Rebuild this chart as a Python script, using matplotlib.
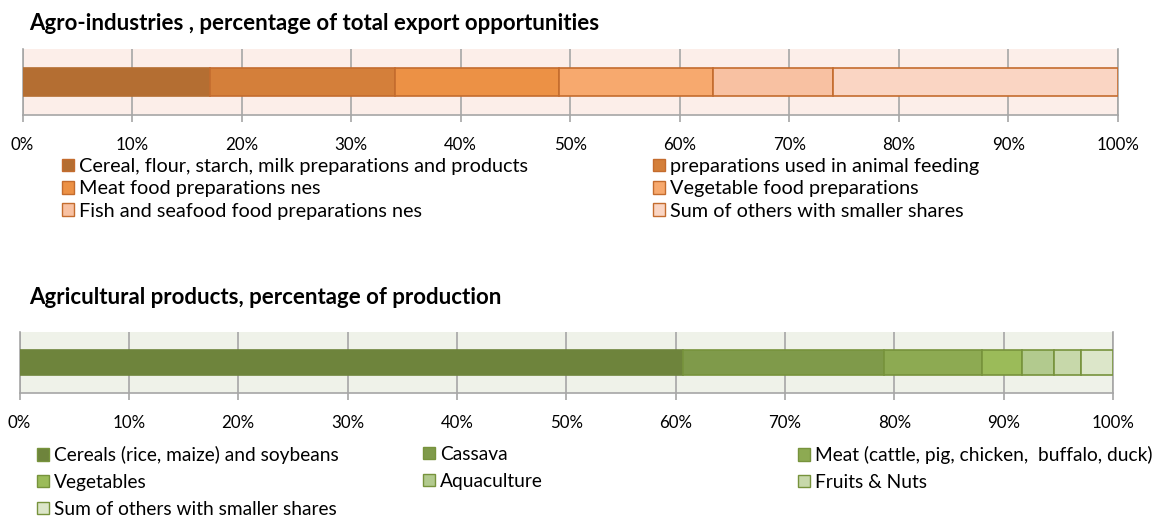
import matplotlib
matplotlib.use("Agg")
import matplotlib.pyplot as plt
from matplotlib.patches import Patch

plt.rcParams["font.family"] = ["Lato", "DejaVu Sans"]

# agro-industries: share of total export opportunities (%)
agro_labels = [
    "Cereal, flour, starch, milk preparations and products",
    "preparations used in animal feeding",
    "Meat food preparations nes",
    "Vegetable food preparations",
    "Fish and seafood food preparations nes",
    "Sum of others with smaller shares",
]
agro_shares = [17.1, 16.9, 15.0, 14.0, 11.0, 26.0]
agro_colors = ["#B46E32", "#D47F3A", "#EC9145", "#F7A96E", "#F8C1A2", "#FAD5C3"]

# agricultural products: share of production (%)
agri_labels = [
    "Cereals (rice, maize) and soybeans",
    "Cassava",
    "Meat (cattle, pig, chicken,  buffalo, duck)",
    "Vegetables",
    "Aquaculture",
    "Fruits & Nuts",
    "Sum of others with smaller shares",
]
agri_shares = [60.7, 18.4, 8.9, 3.7, 2.9, 2.5, 2.9]
agri_colors = ["#6E843C", "#7F9A4A", "#8DAA52", "#9BBB59", "#B2CA8E", "#C7D8AA", "#DCE6C9"]

tick_values = list(range(0, 101, 10))
tick_labels = [f"{v}%" for v in tick_values]

W, H = 1160, 516
GRID = "#A6A6A6"
TITLE_SIZE = 16
TICK_SIZE = 12.2


def stacked_bar(ax, shares, colors, edge, bg):
    left = 0
    for i, (s, c) in enumerate(zip(shares, colors)):
        ax.barh(0, s, left=left, height=1.0, color=c,
                edgecolor=c if i == 0 else edge, linewidth=1.2, zorder=3)
        left += s
    ax.set_facecolor(bg)
    ax.set_xlim(0, 100)
    ax.set_ylim(-1.22, 1.22)
    ax.set_yticks([])
    ax.set_xticks(tick_values)
    ax.set_xticklabels(tick_labels)
    ax.tick_params(axis="x", direction="out", length=4.8, width=1.2,
                   color=GRID, pad=11, labelsize=TICK_SIZE, labelcolor="black")
    ax.grid(axis="x", color=GRID, linewidth=1.2, zorder=1)
    ax.set_axisbelow(True)
    ax.spines["top"].set_visible(False)
    for side in ["left", "right", "bottom"]:
        ax.spines[side].set_color(GRID)
        ax.spines[side].set_linewidth(1.2)


def legend_column(fig, labels, colors, edge, x, y, spacing, size):
    handles = [Patch(facecolor=c, edgecolor=edge, linewidth=1.0) for c in colors]
    fig.legend(handles, labels, loc="upper left",
               bbox_to_anchor=(x / W, 1 - y / H), bbox_transform=fig.transFigure,
               frameon=False, borderpad=0, borderaxespad=0,
               handlelength=0.62, handleheight=0.62, handletextpad=0.25,
               labelspacing=spacing, fontsize=size)


fig = plt.figure(figsize=(W / 100, H / 100), dpi=100)

# top chart
ax1 = fig.add_axes([22.5 / W, 1 - 115 / H, (1118 - 22.5) / W, 66 / H])
stacked_bar(ax1, agro_shares, agro_colors, "#C46C2E", "#FCEEE9")
fig.text(29 / W, 1 - 24 / H, "Agro-industries , percentage of total export opportunities",
         fontsize=TITLE_SIZE, fontweight="bold", va="center", ha="left")
legend_column(fig, agro_labels[0::2], agro_colors[0::2], "#C46C2E", 62, 158, 0.27, 14.3)
legend_column(fig, agro_labels[1::2], agro_colors[1::2], "#C46C2E", 653, 158, 0.27, 14.3)

# bottom chart
ax2 = fig.add_axes([19.5 / W, 1 - 393 / H, (1113 - 19.5) / W, 61 / H])
stacked_bar(ax2, agri_shares, agri_colors, "#77933C", "#EFF2E9")
fig.text(29 / W, 1 - 298 / H, "Agricultural products, percentage of production",
         fontsize=TITLE_SIZE, fontweight="bold", va="center", ha="left")
legend_column(fig, agri_labels[0::3], agri_colors[0::3], "#77933C", 37, 446, 0.52, 13.8)
legend_column(fig, agri_labels[1::3], agri_colors[1::3], "#77933C", 423, 446, 0.52, 13.8)
legend_column(fig, agri_labels[2::3], agri_colors[2::3], "#77933C", 798, 446, 0.52, 13.8)

fig.savefig("out.png", dpi=100)
